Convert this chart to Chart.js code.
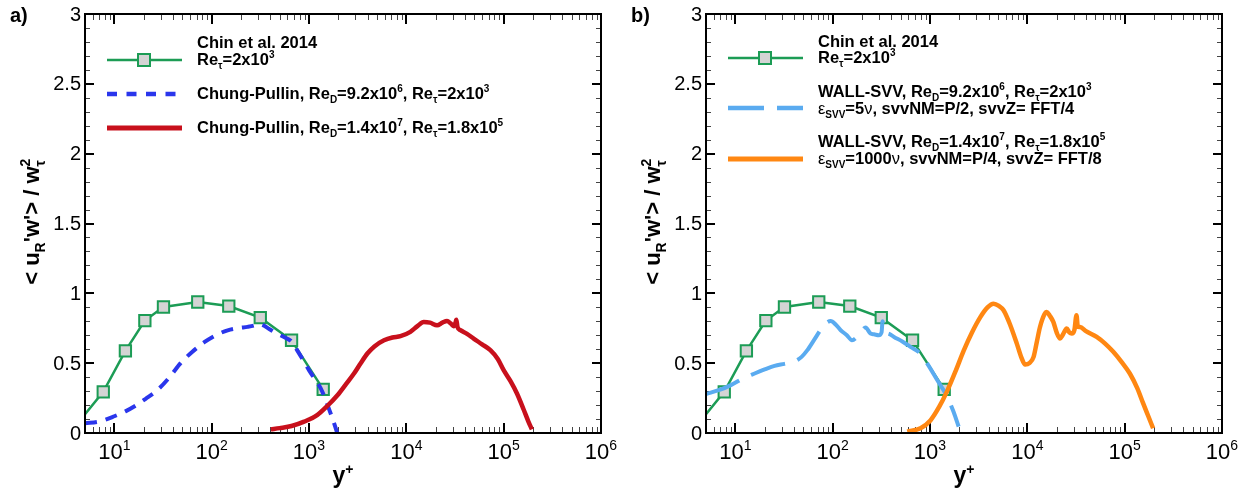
<!DOCTYPE html>
<html>
<head>
<meta charset="utf-8">
<script src="https://cdn.jsdelivr.net/npm/chart.js@4.4.1/dist/chart.umd.min.js"></script>
<style>
  html, body { margin: 0; padding: 0; background: #fff; }
  #wrap { position: relative; width: 1254px; height: 496px; }
  canvas { position: absolute; top: 0; }
  #chartA { left: 0; }
  #chartB { left: 627px; }
</style>
</head>
<body>
<div id="wrap">
  <canvas id="chartA" width="627" height="496"></canvas>
  <canvas id="chartB" width="627" height="496"></canvas>
</div>
<script>
// --- Axis ticks ---
const yTickValues = [0, 0.5, 1, 1.5, 2, 2.5, 3];
const yTickLabels = ['0', '0.5', '1', '1.5', '2', '2.5', '3'];
const xTickValues = [10, 100, 1e3, 1e4, 1e5, 1e6];
const xTickExponents = ['1', '2', '3', '4', '5', '6'];

// --- Chin et al. 2014, Re_tau = 2x10^3 (reference, both panels) ---
const chinYplus = [5, 7.7, 13, 20.6, 32, 72, 150, 316, 662, 1400];
const chinUw = [0.135, 0.295, 0.588, 0.805, 0.902, 0.938, 0.909, 0.826, 0.664, 0.312];

// --- Chung-Pullin, Re_D = 9.2x10^6, Re_tau = 2x10^3 ---
const cpLowYplus = [5, 7, 10, 13, 16, 21, 28, 37, 48, 63, 84, 110, 146, 190, 234, 275, 300, 330, 390, 475, 560, 662, 760, 891, 1000, 1150, 1320, 1460, 1590, 1730, 1860, 1950];
const cpLowUw = [0.07, 0.082, 0.12, 0.155, 0.19, 0.245, 0.31, 0.4, 0.5, 0.58, 0.65, 0.7, 0.735, 0.752, 0.76, 0.77, 0.78, 0.775, 0.745, 0.71, 0.685, 0.655, 0.59, 0.51, 0.45, 0.385, 0.32, 0.25, 0.18, 0.11, 0.045, 0.0];

// --- Chung-Pullin, Re_D = 1.4x10^7, Re_tau = 1.8x10^5 ---
const cpHighYplus = [406, 500, 662, 891, 1222, 1550, 1960, 2400, 2900, 3400, 3980, 4700, 5900, 7200, 8710, 11000, 13000, 15100, 17500, 20700, 23500, 26200, 28500, 30700, 32000, 32700, 33500, 35900, 42000, 49200, 60000, 73000, 87000, 100000, 118000, 137000, 160000, 180000, 195000];
const cpHighUw = [0.026, 0.035, 0.05, 0.081, 0.13, 0.195, 0.27, 0.35, 0.426, 0.5, 0.569, 0.62, 0.664, 0.684, 0.693, 0.724, 0.765, 0.795, 0.79, 0.771, 0.79, 0.802, 0.785, 0.764, 0.79, 0.81, 0.76, 0.736, 0.71, 0.676, 0.635, 0.593, 0.53, 0.45, 0.37, 0.283, 0.17, 0.08, 0.026];

// --- WALL-SVV, Re_D = 9.2x10^6, Re_tau = 2x10^3 ---
const svvLowYplus = [5, 7, 9, 12, 15.8, 20, 25.3, 32, 40, 48, 55, 65, 75.5, 85, 95.5, 108, 121, 140, 158, 185, 218, 245, 266, 298, 318, 326, 336, 380, 427, 520, 630, 795, 935, 1186, 1500, 1750, 1970];
const svvLowUw = [0.279, 0.31, 0.343, 0.39, 0.426, 0.455, 0.481, 0.495, 0.51, 0.545, 0.593, 0.67, 0.74, 0.785, 0.802, 0.775, 0.736, 0.7, 0.664, 0.7, 0.755, 0.712, 0.707, 0.7, 0.72, 0.8, 0.74, 0.71, 0.688, 0.655, 0.617, 0.569, 0.498, 0.379, 0.26, 0.15, 0.045];

// --- WALL-SVV, Re_D = 1.4x10^7, Re_tau = 1.8x10^5 ---
const svvHighYplus = [584, 800, 1010, 1250, 1500, 1850, 2220, 2700, 3290, 3900, 4500, 5100, 5700, 6700, 7800, 8700, 9500, 10500, 11600, 12500, 13500, 15000, 15850, 17000, 18500, 20000, 21700, 23000, 25400, 27000, 28600, 30500, 32000, 33000, 34800, 40000, 51600, 63000, 76400, 95000, 113000, 135000, 155000, 175000, 196000];
const svvHighUw = [0.01, 0.034, 0.09, 0.19, 0.3, 0.45, 0.59, 0.72, 0.83, 0.9, 0.926, 0.91, 0.879, 0.77, 0.64, 0.54, 0.49, 0.5, 0.545, 0.65, 0.759, 0.85, 0.866, 0.84, 0.795, 0.72, 0.676, 0.7, 0.748, 0.72, 0.712, 0.74, 0.843, 0.76, 0.759, 0.73, 0.688, 0.64, 0.581, 0.5, 0.426, 0.32, 0.212, 0.12, 0.034];

const FONT = '"Liberation Sans", Arial, Helvetica, sans-serif';
const GREEN = '#1c9c55', BLUE = '#2a36ec', RED = '#c8101c', LIGHTBLUE = '#5aabf0', ORANGE = '#ff8712';

const toPoints = (xs, ys) => xs.map((x, i) => ({ x, y: ys[i] }));

// Draws text made of pieces: '' normal, 'sub', 'sup', 'sup0' (sup without advance), 'sym' (regular weight)
function rich(ctx, x, y, parts, size, bold, draw = true) {
    let cx = x;
    for (const [t, kind] of parts) {
        const small = kind.startsWith('sup') || kind === 'sub';
        const f = small ? Math.round(size * 0.62) : size;
        const dy = kind.startsWith('sup') ? -size * 0.4 : kind === 'sub' ? size * 0.27 : 0;
        ctx.font = ((bold && kind !== 'sym') ? 'bold ' : '') + f + 'px ' + FONT;
        if (draw) ctx.fillText(t, cx, y + dy);
        if (kind !== 'sup0') cx += ctx.measureText(t).width;
    }
    return cx - x;
}

function seg(ctx, x1, y1, x2, y2) {
    ctx.beginPath(); ctx.moveTo(x1, y1); ctx.lineTo(x2, y2); ctx.stroke();
}

function drawTicks(chart) {
    const { ctx, chartArea: a } = chart;
    const xs = chart.scales.x, ys = chart.scales.y;
    ctx.save();
    // minor ticks, inward on all four sides
    ctx.lineWidth = 1; ctx.strokeStyle = '#444';
    for (let i = 1; i < 30; i++) {
        if (i % 5 === 0) continue;
        const py = Math.round(ys.getPixelForValue(i / 10)) + 0.5;
        seg(ctx, a.left, py, a.left + 5, py);
        seg(ctx, a.right, py, a.right - 5, py);
    }
    for (let d = 1; d <= 1e5; d *= 10) {
        for (let m = 2; m <= 9; m++) {
            const v = m * d;
            if (v <= 5) continue;
            const px = Math.round(xs.getPixelForValue(v)) + 0.5;
            seg(ctx, px, a.bottom, px, a.bottom - 6);
            seg(ctx, px, a.top, px, a.top + 6);
        }
    }
    // major ticks
    ctx.lineWidth = 2; ctx.strokeStyle = '#000';
    yTickValues.forEach(v => {
        const py = Math.round(ys.getPixelForValue(v));
        seg(ctx, a.left, py, a.left + 9, py);
        seg(ctx, a.right, py, a.right - 9, py);
    });
    xTickValues.forEach(v => {
        const px = Math.round(xs.getPixelForValue(v));
        seg(ctx, px, a.bottom, px, a.bottom - 10);
        seg(ctx, px, a.top, px, a.top + 10);
    });
    ctx.restore();
}

function drawAxesText(chart, panel) {
    const { ctx, chartArea: a } = chart;
    const xs = chart.scales.x, ys = chart.scales.y;
    ctx.save();
    ctx.fillStyle = '#000';
    ctx.lineWidth = 2; ctx.strokeStyle = '#000';
    ctx.strokeRect(a.left, a.top, a.right - a.left, a.bottom - a.top);

    // y tick labels
    ctx.font = '20px ' + FONT;
    ctx.textAlign = 'right'; ctx.textBaseline = 'middle';
    yTickValues.forEach((v, i) => ctx.fillText(yTickLabels[i], a.left - 4, ys.getPixelForValue(v) + 1));

    // x tick labels 10^n
    ctx.textAlign = 'left'; ctx.textBaseline = 'alphabetic';
    xTickValues.forEach((v, i) => {
        const parts = [['10', ''], [xTickExponents[i], 'sup']];
        const w = rich(ctx, 0, 0, parts, 22, false, false);
        rich(ctx, xs.getPixelForValue(v) - w / 2, a.bottom + 26, parts, 22, false);
    });

    // x title
    const xt = [['y', ''], ['+', 'sup']];
    const xw = rich(ctx, 0, 0, xt, 23, true, false);
    rich(ctx, (a.left + a.right) / 2 - xw / 2, a.bottom + 50, xt, 23, true);

    // y title, rotated
    const yt = [['< u', ''], ['R', 'sub'], ["'w'> / w", ''], ['2', 'sup0'], ['τ', 'sub']];
    const yw = rich(ctx, 0, 0, yt, 22, true, false);
    ctx.save();
    ctx.translate(a.left - 54, (a.top + a.bottom) / 2 - 1);
    ctx.rotate(-Math.PI / 2);
    rich(ctx, -yw / 2, 8, yt, 22, true);
    ctx.restore();

    // panel letter
    ctx.font = 'bold 20px ' + FONT;
    ctx.fillText(panel.label, panel.labelX, 22);
    ctx.restore();
}

// Legend block in the upper left of the plot: sample line, optional marker, text lines
function drawLegend(chart, items) {
    const { ctx, chartArea: a } = chart;
    const x0 = a.left + 22, tx = a.left + 112;
    ctx.save();
    items.forEach(it => {
        ctx.strokeStyle = it.color; ctx.lineWidth = it.width;
        ctx.setLineDash(it.dash || []);
        seg(ctx, x0, it.lineY, x0 + (it.sampleLength || 75), it.lineY);
        ctx.setLineDash([]);
        if (it.marker) {
            ctx.fillStyle = '#d4d4d4'; ctx.strokeStyle = GREEN; ctx.lineWidth = 2;
            ctx.fillRect(x0 + 31, it.lineY - 6, 12, 12);
            ctx.strokeRect(x0 + 31, it.lineY - 6, 12, 12);
        }
        ctx.fillStyle = '#000';
        it.lines.forEach(l => rich(ctx, tx, l.y, l.parts, 16.5, true));
    });
    ctx.restore();
}

function decor(panel, legendItems) {
    return {
        id: 'decor' + panel.label,
        beforeDatasetsDraw(chart) { drawTicks(chart); },
        afterDraw(chart) { drawAxesText(chart, panel); drawLegend(chart, legendItems); }
    };
}

function chinDataset() {
    return {
        data: toPoints(chinYplus, chinUw),
        borderColor: GREEN, borderWidth: 2.5,
        pointStyle: 'rect',
        pointRadius: chinYplus.map((_, i) => (i === 0 ? 0 : 8)),
        pointBackgroundColor: '#d4d4d4', pointBorderColor: GREEN, pointBorderWidth: 2,
        tension: 0
    };
}

function curve(xs, ys, color, width, dash) {
    return {
        data: toPoints(xs, ys),
        borderColor: color, borderWidth: width, borderDash: dash || [],
        borderJoinStyle: 'round', pointRadius: 0,
        cubicInterpolationMode: 'monotone'
    };
}

function baseOptions(padLeft, padRight) {
    return {
        responsive: false, animation: false, events: [],
        layout: { padding: { left: padLeft, right: padRight, top: 14, bottom: 63 } },
        scales: {
            x: { type: 'logarithmic', min: 5, max: 1e6, display: false },
            y: { type: 'linear', min: 0, max: 3, display: false }
        },
        plugins: { legend: { display: false }, tooltip: { enabled: false } }
    };
}

const reTau2k = [['Re', ''], ['τ', 'sub'], ['=2x10', ''], ['3', 'sup']];
const reTau180k = [['Re', ''], ['τ', 'sub'], ['=1.8x10', ''], ['5', 'sup']];

// --- Panel a) Chung-Pullin ---
new Chart(document.getElementById('chartA'), {
    type: 'line',
    data: {
        datasets: [
            curve(cpHighYplus, cpHighUw, RED, 4.5),
            curve(cpLowYplus, cpLowUw, BLUE, 4, [12, 9]),
            chinDataset()
        ]
    },
    options: baseOptions(85, 26),
    plugins: [decor({ label: 'a)', labelX: 10 }, [
        { color: GREEN, width: 2.5, marker: true, lineY: 60, lines: [
            { y: 48, parts: [['Chin et al. 2014', '']] },
            { y: 65, parts: reTau2k }] },
        { color: BLUE, width: 4.5, dash: [10, 9.5], sampleLength: 69, lineY: 94, lines: [
            { y: 99, parts: [['Chung-Pullin, Re', ''], ['D', 'sub'], ['=9.2x10', ''], ['6', 'sup'], [', ', ''], ...reTau2k] }] },
        { color: RED, width: 5, lineY: 128, lines: [
            { y: 132.5, parts: [['Chung-Pullin, Re', ''], ['D', 'sub'], ['=1.4x10', ''], ['7', 'sup'], [', ', ''], ...reTau180k] }] }
    ])]
});

// --- Panel b) WALL-SVV ---
new Chart(document.getElementById('chartB'), {
    type: 'line',
    data: {
        datasets: [
            curve(svvHighYplus, svvHighUw, ORANGE, 4.5),
            curve(svvLowYplus, svvLowUw, LIGHTBLUE, 4, [36, 13]),
            chinDataset()
        ]
    },
    options: baseOptions(79, 32),
    plugins: [decor({ label: 'b)', labelX: 4 }, [
        { color: GREEN, width: 2.5, marker: true, lineY: 58, lines: [
            { y: 46.5, parts: [['Chin et al. 2014', '']] },
            { y: 63, parts: reTau2k }] },
        { color: LIGHTBLUE, width: 4.5, dash: [36, 13], lineY: 108, lines: [
            { y: 96.5, parts: [['WALL-SVV, Re', ''], ['D', 'sub'], ['=9.2x10', ''], ['6', 'sup'], [', ', ''], ...reTau2k] },
            { y: 114, parts: [['ε', 'sym'], ['SVV', 'sub'], ['=5', ''], ['ν', 'sym'], [', svvNM=P/2, svvZ= FFT/4', '']] }] },
        { color: ORANGE, width: 5, lineY: 159, lines: [
            { y: 146.5, parts: [['WALL-SVV, Re', ''], ['D', 'sub'], ['=1.4x10', ''], ['7', 'sup'], [', ', ''], ...reTau180k] },
            { y: 164, parts: [['ε', 'sym'], ['SVV', 'sub'], ['=1000', ''], ['ν', 'sym'], [', svvNM=P/4, svvZ= FFT/8', '']] }] }
    ])]
});
</script>
</body>
</html>
